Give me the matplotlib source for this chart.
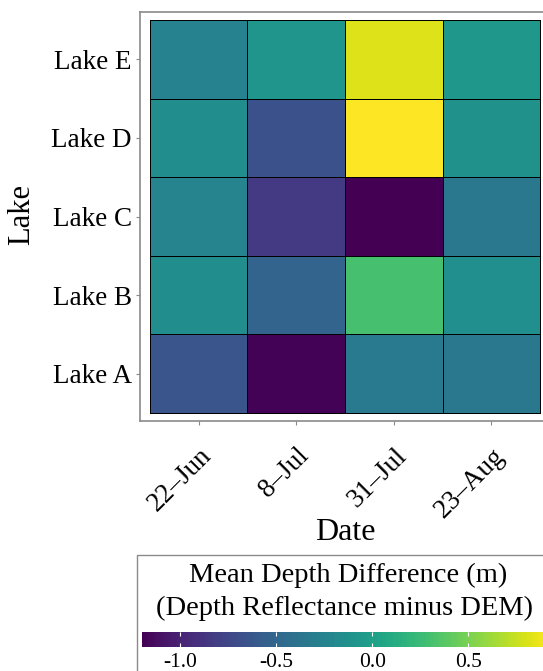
import matplotlib
matplotlib.use("Agg")
import numpy as np
import matplotlib.pyplot as plt
import matplotlib.patches as mpatches
from matplotlib.cm import ScalarMappable
from matplotlib.colors import Normalize
from matplotlib.transforms import ScaledTranslation

# ---- data ----
dates = ["22–Jun", "8–Jul", "31–Jul", "23–Aug"]
lakes = ["Lake A", "Lake B", "Lake C", "Lake D", "Lake E"]
lake_a = [-0.65, -1.19, -0.33, -0.35]
lake_b = [-0.16, -0.52, 0.30, -0.15]
lake_c = [-0.24, -0.84, -1.20, -0.35]
lake_d = [-0.16, -0.67, 0.93, -0.13]
lake_e = [-0.26, -0.09, 0.82, -0.07]
cbar_ticks = [-1.0, -0.5, 0.0, 0.5]
cbar_ticklabels = ["-1.0", "-0.5", "0.0", "0.5"]

values = np.array([lake_a, lake_b, lake_c, lake_d, lake_e])
vmin, vmax = values.min(), values.max()

plt.rcParams["font.family"] = ["Liberation Serif", "DejaVu Serif"]

W, H = 543, 671
fig = plt.figure(figsize=(W / 100, H / 100), dpi=100)

def fx(px):
    return px / W

def fy(py):
    return 1 - py / H

# ---- heatmap panel ----
ax = fig.add_axes([fx(140), fy(421), (550 - 140) / W, (421 - 12) / H])
norm = Normalize(vmin=vmin, vmax=vmax)
ax.pcolormesh(np.arange(len(dates) + 1) - 0.5, np.arange(len(lakes) + 1) - 0.5,
              values, cmap="viridis", norm=norm, edgecolors="black", linewidth=0.6)
ax.set_xlim(-0.6, len(dates) - 0.4)
ax.set_ylim(-0.6, len(lakes) - 0.4)
for s in ax.spines.values():
    s.set_color("#8a8a8a")
    s.set_linewidth(1.2)
ax.set_xticks(range(len(dates)))
ax.set_yticks(range(len(lakes)))
ax.set_yticklabels(lakes, fontsize=19.5)
ax.set_xticklabels(dates, fontsize=19.5, rotation=45, ha="right", va="top",
                   rotation_mode="anchor")
shift = ScaledTranslation(8 / 100, 0, fig.dpi_scale_trans)
for lab in ax.get_xticklabels():
    lab.set_transform(lab.get_transform() + shift)
ax.tick_params(axis="both", length=3, width=0.8, color="#8a8a8a")
ax.tick_params(axis="y", pad=3)
ax.tick_params(axis="x", pad=13)

fig.text(fx(22), fy(215), "Lake", rotation=90, fontsize=22, ha="center", va="center")
fig.text(fx(345), fy(532), "Date", fontsize=23, ha="center", va="center")

# ---- legend box ----
box = mpatches.Rectangle((fx(137), fy(700)), (556 - 137) / W, (700 - 555) / H,
                         transform=fig.transFigure, fill=False,
                         edgecolor="#8a8a8a", linewidth=1.0, clip_on=False)
fig.add_artist(box)
fig.text(fx(348), fy(575), "Mean Depth Difference (m)", fontsize=20.5,
         ha="center", va="center")
fig.text(fx(345), fy(608), "(Depth Reflectance minus DEM)", fontsize=20.5,
         ha="center", va="center")

cax = fig.add_axes([fx(142), fy(647), (551 - 142) / W, 15 / H])
cb = fig.colorbar(ScalarMappable(norm=norm, cmap="viridis"), cax=cax,
                  orientation="horizontal")
cb.outline.set_visible(False)
cb.set_ticks(cbar_ticks)
cb.set_ticklabels(cbar_ticklabels)
cax.tick_params(axis="x", direction="in", color="white", length=3, width=0.8,
                labelsize=15.5, pad=4, top=True, bottom=True)

fig.savefig("out.png", dpi=100, facecolor="white")
